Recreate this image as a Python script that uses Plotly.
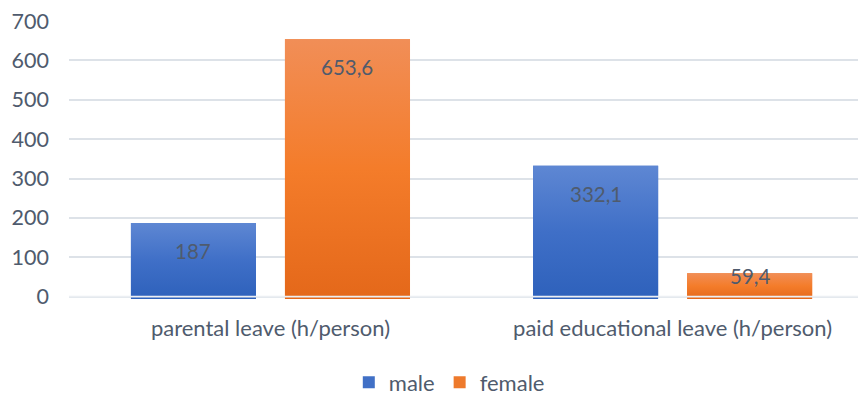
import plotly.graph_objects as go

# Leave hours per person, by sex
categories = ["parental leave (h/person)", "paid educational leave (h/person)"]
male = [187, 332.1]
female = [653.6, 59.4]
male_labels = ["187", "332,1"]
female_labels = ["653,6", "59,4"]
y_ticks = [0, 100, 200, 300, 400, 500, 600, 700]

FONT = "Lato"
TEXT = "#4f5b6d"
GRID = "#dde2e8"
BLUE = "#4170c6"
ORANGE = "#ee7a2c"
BLUE_GRAD = [[0, "#2e61bb"], [0.5, "#3f6fc7"], [1, "#5e87d3"]]
ORANGE_GRAD = [[0, "#e4681a"], [0.5, "#f47c2a"], [1, "#f18e57"]]

BARGAP = 0.234
BARGROUPGAP = 0.188
slot = (1 - BARGAP) / 2
bar_w = slot * (1 - BARGROUPGAP)
Y_MIN = -6  # bars reach a touch below the zero line

fig = go.Figure()
fig.add_trace(go.Bar(name="male", x=categories, y=male, marker=dict(color=BLUE, line=dict(width=0))))
fig.add_trace(go.Bar(name="female", x=categories, y=female, marker=dict(color=ORANGE, line=dict(width=0))))

# vertical colour gradient on each bar, built from the same values
series = ((-0.5, male, male_labels, BLUE_GRAD), (0.5, female, female_labels, ORANGE_GRAD))
for side, vals, labels, grad in series:
    for i, v in enumerate(vals):
        cx = i + side * slot
        x0, x1 = cx - bar_w / 2, cx + bar_w / 2
        fig.add_trace(go.Scatter(
            x=[x0, x1, x1, x0, x0], y=[Y_MIN, Y_MIN, v, v, Y_MIN],
            xaxis="x2", mode="none", fill="toself",
            fillgradient=dict(type="vertical", colorscale=grad),
            showlegend=False, hoverinfo="skip",
        ))

# value labels just inside the top of each bar
plot_h = 280
for side, vals, labels, _ in series:
    for i, (v, lab) in enumerate(zip(vals, labels)):
        bar_px = v / 700 * plot_h
        shift = -28 if bar_px > 60 else -3
        fig.add_annotation(
            x=i + side * slot, y=v, xref="x2", yref="y",
            text=lab, showarrow=False, yshift=shift,
            font=dict(family=FONT, size=20.5, color=TEXT),
        )

# light zero line drawn over the bar bases
fig.add_shape(type="line", xref="paper", yref="y", x0=0, x1=1, y0=0, y1=0,
              line=dict(color="#eceff3", width=1.6), layer="above")

X_RANGE = [-0.501, 1.461]
fig.update_layout(
    width=866, height=418,
    margin=dict(l=69, r=8, t=17, b=118.6),
    paper_bgcolor="white", plot_bgcolor="white",
    barmode="group", bargap=BARGAP, bargroupgap=BARGROUPGAP,
    font=dict(family=FONT, size=20, color=TEXT),
    showlegend=True,
    legend=dict(orientation="h", x=0.482, xanchor="center", y=-0.30, yanchor="middle",
                font=dict(family=FONT, size=22, color=TEXT), itemwidth=30,
                traceorder="normal"),
    xaxis=dict(range=X_RANGE, showgrid=False, showline=False, ticks="",
               ticklabelstandoff=14, tickfont=dict(family=FONT, size=22, color=TEXT)),
    xaxis2=dict(range=X_RANGE, overlaying="x", visible=False),
    yaxis=dict(range=[Y_MIN, 700], tickvals=y_ticks, showgrid=True, gridcolor=GRID,
               gridwidth=1.5, zeroline=False,
               showline=False, ticks="", ticklabelstandoff=19,
               tickfont=dict(family=FONT, size=21.5, color=TEXT)),
)

fig.write_html("out.html")
